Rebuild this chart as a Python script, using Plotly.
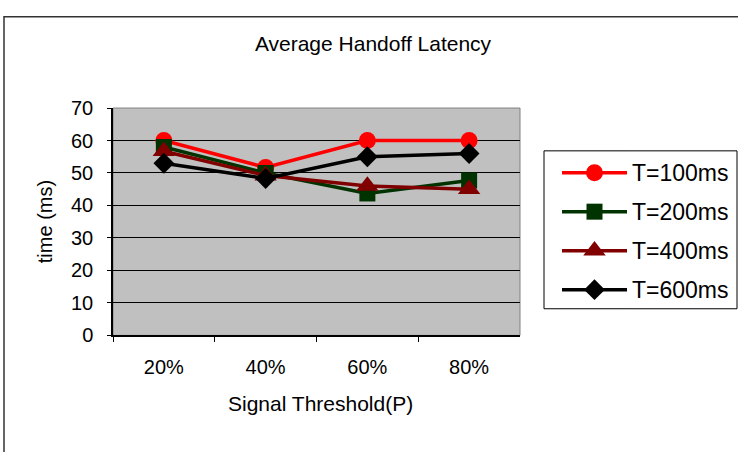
import plotly.graph_objects as go

W, H = 738, 452

categories = ["20%", "40%", "60%", "80%"]
series_names = ["T=100ms", "T=200ms", "T=400ms", "T=600ms"]
t100 = [60, 51.7, 60, 60]
t200 = [58, 50, 43.7, 47.7]
t400 = [56.7, 49.2, 46, 45]
t600 = [53, 48.3, 55, 56]
y_ticks = [0, 10, 20, 30, 40, 50, 60, 70]

series_values = [t100, t200, t400, t600]
colors = ["#FF0000", "#003300", "#800000", "#000000"]
symbols = ["circle", "square", "triangle-up", "diamond"]
msizes = [17, 16, 19.5, 16]

FONT = "Liberation Sans, Arial, sans-serif"

def px(x):
    return x / W

def py(y):
    return (H - y) / H

fig = go.Figure()

for name, vals, c, s, ms in zip(series_names, series_values, colors, symbols, msizes):
    fig.add_trace(go.Scatter(
        x=categories, y=vals, name=name, mode="lines+markers",
        line=dict(color=c, width=3.5),
        marker=dict(symbol=s, size=ms, color=c, opacity=1, line=dict(width=0)),
        xaxis="x", yaxis="y", showlegend=False, cliponaxis=False,
    ))

# manual legend samples drawn on a helper axis pair
rows = [3, 2, 1, 0]
for name, c, s, ms, r in zip(series_names, colors, symbols, msizes, rows):
    fig.add_trace(go.Scatter(
        x=[0, 0.5, 1], y=[r, r, r], mode="lines+markers",
        line=dict(color=c, width=3.5),
        marker=dict(symbol=s, size=[0, ms, 0], color=c, opacity=1, line=dict(width=0)),
        xaxis="x2", yaxis="y2", showlegend=False, hoverinfo="skip", cliponaxis=False,
    ))

annotations = []
for name, r in zip(series_names, rows):
    annotations.append(dict(
        text=name, x=px(630), y=r, xref="paper", yref="y2",
        xanchor="left", yanchor="middle", showarrow=False,
        font=dict(family=FONT, size=23, color="#000000"),
    ))

annotations.append(dict(
    text="time (ms)", x=px(45), y=py(222), xref="paper", yref="paper",
    textangle=-90, xanchor="center", yanchor="middle", showarrow=False,
    font=dict(family=FONT, size=20, color="#000000"),
))
annotations.append(dict(
    text="Signal Threshold(P)", x=px(320), y=py(413), xref="paper", yref="paper",
    xanchor="center", yanchor="middle", showarrow=False,
    font=dict(family=FONT, size=21, color="#000000"),
))

shapes = [
    # outer chart frame
    dict(type="rect", xref="paper", yref="paper", x0=px(4), x1=px(760),
         y0=py(480), y1=py(6), line=dict(color="#333333", width=1.5),
         fillcolor="rgba(0,0,0,0)", layer="below"),
    # plot area border
    dict(type="rect", xref="x domain", yref="y domain", x0=0, x1=1, y0=0, y1=1,
         line=dict(color="#808080", width=1), layer="below"),
    # legend box
    dict(type="rect", xref="paper", yref="paper", x0=px(544), x1=px(737),
         y0=py(313), y1=py(147), line=dict(color="#000000", width=1),
         fillcolor="#FFFFFF", layer="below"),
]

fig.update_layout(
    width=W, height=H,
    margin=dict(l=0, r=0, t=0, b=0),
    paper_bgcolor="#FFFFFF",
    plot_bgcolor="#C0C0C0",
    showlegend=False,
    font=dict(family=FONT, color="#000000"),
    title=dict(text="Average Handoff Latency", x=px(373), y=py(34),
               xanchor="center", yanchor="middle", xref="paper", yref="paper",
               font=dict(family=FONT, size=21, color="#000000")),
    xaxis=dict(
        domain=[px(113), px(520)], type="category",
        categoryorder="array", categoryarray=categories,
        range=[-0.5, 3.5], tickson="boundaries",
        ticks="outside", ticklen=5, tickcolor="#000000", tickwidth=1,
        showline=True, linecolor="#000000", linewidth=1.5,
        showgrid=False, zeroline=False,
        tickfont=dict(family=FONT, size=20, color="#000000"),
        ticklabelstandoff=13, anchor="y",
    ),
    yaxis=dict(
        domain=[py(341), py(102)], range=[0, 70], tickvals=y_ticks,
        ticks="outside", ticklen=4, tickcolor="#000000", tickwidth=1,
        showline=True, linecolor="#000000", linewidth=1.5,
        showgrid=True, gridcolor="#000000", gridwidth=1,
        zeroline=False,
        tickfont=dict(family=FONT, size=20, color="#000000"),
        ticklabelstandoff=10, anchor="x",
    ),
    xaxis2=dict(domain=[px(562), px(627)], range=[0, 1], visible=False,
                anchor="y2", fixedrange=True),
    yaxis2=dict(domain=[py(313), py(147)], range=[-0.49, 3.56], visible=False,
                anchor="x2", fixedrange=True),
    annotations=annotations,
    shapes=shapes,
)

fig.write_html("out.html")
